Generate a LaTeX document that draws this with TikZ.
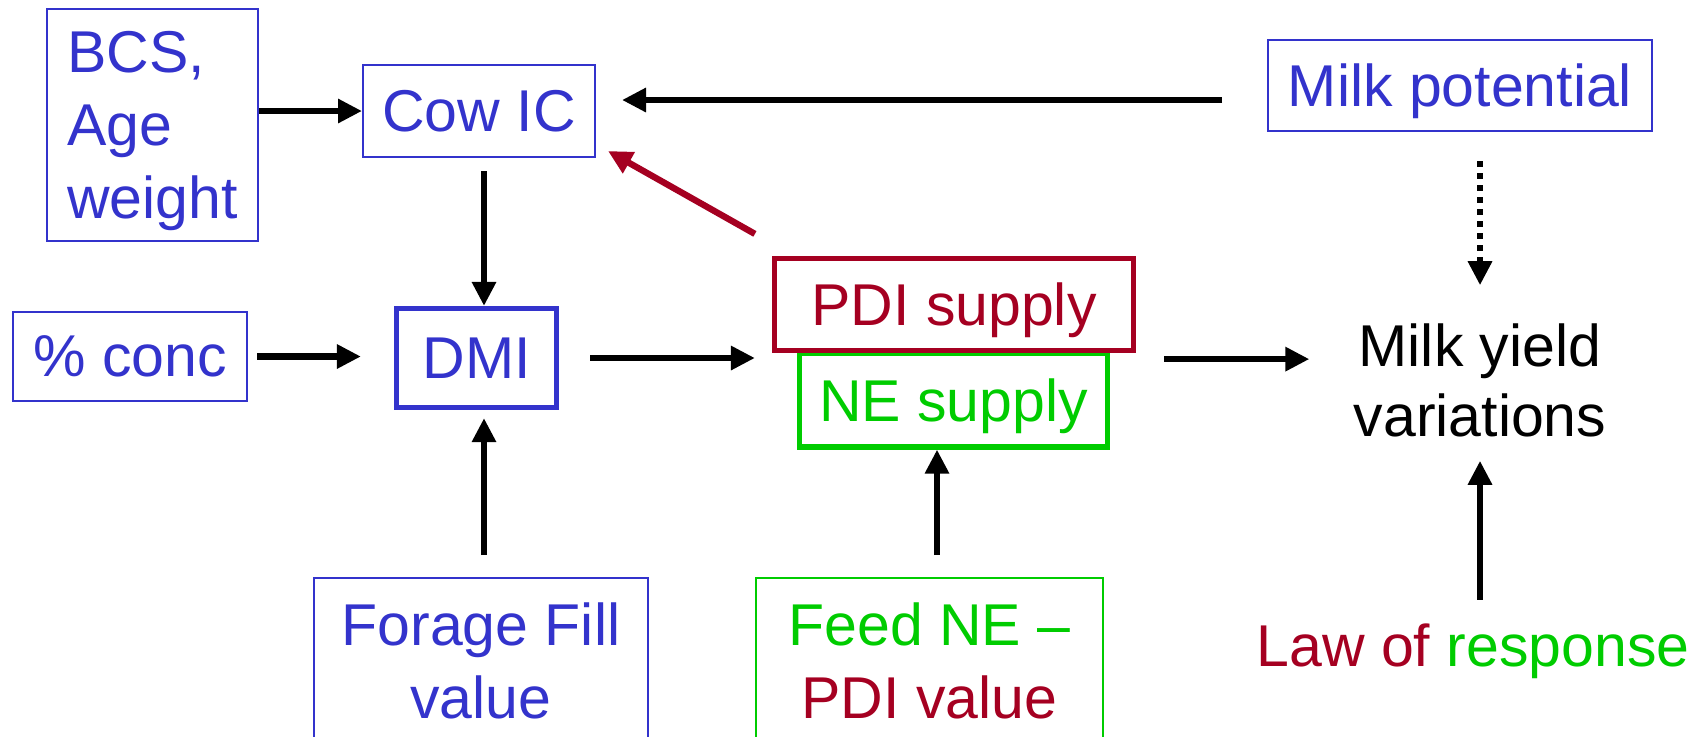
\documentclass[tikz,border=0pt]{standalone}
\usepackage{fontspec}
\setmainfont{Liberation Sans}
\usepackage{xcolor}
\usetikzlibrary{arrows.meta,positioning}

\definecolor{boxblue}{RGB}{51,51,204}
\definecolor{pdired}{RGB}{165,0,33}
\definecolor{negreen}{RGB}{0,204,0}

\begin{document}
\begin{tikzpicture}[x=0.5pt,y=-0.5pt]
	\begin{scope}

\tikzset{box/.style={draw=boxblue,text=boxblue,line width=1pt,inner sep=0pt,align=center,text depth=0pt,
	font=\fontsize{29.5}{34}\selectfont}}
\tikzset{supplybox/.style={box,line width=2.6pt}}
\tikzset{plain/.style={inner sep=0pt,align=center,text depth=0pt,font=\fontsize{29.5}{35}\selectfont}}
\tikzset{arr/.style={line width=3.2pt,-{Triangle[length=12pt,width=11.5pt]}}}

\useasboundingbox (0,0) rectangle (1700,736);
\clip (0,0) rectangle (1700,736);

% the boxes
\node[box,align=left,minimum width=105.5pt,minimum height=116pt,font=\fontsize{29.5}{36.5}\selectfont] (bcs) at (152.5,125) {BCS,\\Age\\weight};
\node[box,minimum width=116pt,minimum height=46pt] (cowic) at (479,111) {Cow IC};
\node[box,minimum width=192pt,minimum height=45.5pt] (milkpot) at (1460,85.5) {Milk potential};
\node[box,minimum width=117pt,minimum height=44.5pt] (conc) at (130,356.5) {\% conc};
\node[supplybox,minimum width=80pt,minimum height=49.5pt] (dmi) at (476.5,358) {DMI};

\node[supplybox,draw=negreen,text=negreen,minimum width=154pt,minimum height=47pt] (ne) at (953.5,400) {NE supply};
\node[supplybox,draw=pdired,text=pdired,minimum width=179.5pt,minimum height=46pt] (pdi) at (954,304.5) {PDI supply};

\node[box,anchor=north,minimum width=167pt,inner ysep=12.5pt,font=\fontsize{29.5}{36.5}\selectfont] (forage) at (481,577) {Forage Fill\\value};
\node[box,draw=negreen,anchor=north,minimum width=173.5pt,inner ysep=12.5pt,font=\fontsize{29.5}{36.5}\selectfont] (feed) at (929.5,577)
	{\textcolor{negreen}{Feed NE --}\\\textcolor{pdired}{PDI value}};

\node[plain] (milky) at (1480,380) {Milk yield\\variations};
\node[plain] (law) at (1473,645.5) {\textcolor{pdired}{Law of} \textcolor{negreen}{response}};

% the arrows
\draw[arr] (bcs.east |- cowic.west) -- (cowic.west);
\draw[arr,shorten <=22.5pt,shorten >=13pt] ([yshift=-7.25pt]milkpot.west) -- ([yshift=-7.25pt]milkpot.west -| cowic.east);
\draw[arr,pdired] ([xshift=-8.5pt,yshift=11pt]pdi.north west) -- ([xshift=6pt,yshift=3.5pt]cowic.south east);
\draw[arr,shorten <=6.5pt] ([xshift=2.5pt]cowic.south) -- ([xshift=2.5pt]cowic.south |- dmi.north);
\draw[arr,shorten <=4.5pt,shorten >=16.5pt] (conc.east) -- (conc.east -| dmi.west);
\draw[arr,shorten <=15.5pt,shorten >=8.5pt] (dmi.east) -- (dmi.east -| pdi.west);
\draw[arr,shorten <=11pt,shorten >=4pt] ([xshift=1.5pt]forage.north) -- ([xshift=1.5pt]forage.north |- dmi.south);
\draw[arr,shorten <=11pt] ([xshift=3.75pt]feed.north) -- ([xshift=3.75pt]feed.north |- ne.south);
\draw[arr,shorten <=14pt,shorten >=22pt] ([yshift=-3pt]pdi.south east) -- ([yshift=-3pt]pdi.south east -| milky.west);

% dotted one from the potential
\draw[arr,dash pattern=on 3pt off 3pt,shorten <=14.5pt,shorten >=19pt] (milky.north |- milkpot.south) -- (milky.north);
\draw[arr,shorten <=12pt,shorten >=12pt] (milky.south |- law.north) -- (milky.south);

	\end{scope}
\end{tikzpicture}
\end{document}
